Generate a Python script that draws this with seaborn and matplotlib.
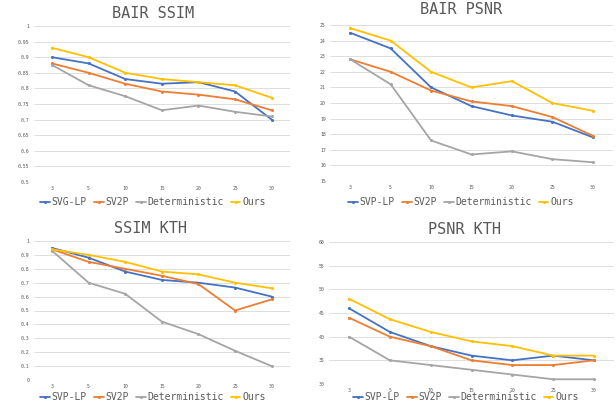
import pandas as pd
import matplotlib
matplotlib.use("Agg")
import matplotlib.pyplot as plt
import seaborn as sns

# frames predicted (x categories)
frames = ["3", "5", "10", "15", "20", "25", "30"]

# BAIR SSIM
bair_ssim_svg = [0.90, 0.88, 0.83, 0.815, 0.82, 0.79, 0.70]
bair_ssim_sv2p = [0.88, 0.85, 0.815, 0.79, 0.78, 0.765, 0.73]
bair_ssim_det = [0.875, 0.81, 0.775, 0.73, 0.745, 0.725, 0.71]
bair_ssim_ours = [0.93, 0.90, 0.85, 0.83, 0.82, 0.81, 0.77]

# BAIR PSNR
bair_psnr_svp = [24.5, 23.5, 21.0, 19.8, 19.2, 18.8, 17.8]
bair_psnr_sv2p = [22.8, 22.0, 20.8, 20.1, 19.8, 19.1, 17.9]
bair_psnr_det = [22.8, 21.2, 17.6, 16.7, 16.9, 16.4, 16.2]
bair_psnr_ours = [24.8, 24.0, 22.0, 21.0, 21.4, 20.0, 19.5]

# SSIM KTH
kth_ssim_svp = [0.95, 0.88, 0.78, 0.72, 0.70, 0.665, 0.60]
kth_ssim_sv2p = [0.94, 0.85, 0.80, 0.75, 0.69, 0.50, 0.58]
kth_ssim_det = [0.93, 0.70, 0.62, 0.42, 0.33, 0.21, 0.10]
kth_ssim_ours = [0.94, 0.90, 0.85, 0.78, 0.76, 0.70, 0.66]

# PSNR KTH
kth_psnr_svp = [46, 41, 38, 36, 35, 36, 35]
kth_psnr_sv2p = [44, 40, 38, 35, 34, 34, 35]
kth_psnr_det = [40, 35, 34, 33, 32, 31, 31]
kth_psnr_ours = [48, 43.7, 41, 39, 38, 36, 36]

colors = ["#4472C4", "#ED7D31", "#A5A5A5", "#FFC000"]


def long_df(names, series):
    rows = []
    for name, vals in zip(names, series):
        for f, v in zip(frames, vals):
            rows.append({"frames": f, "value": v, "method": name})
    return pd.DataFrame(rows)


sns.set_style("white")
plt.rcParams["font.family"] = ["DejaVu Sans Mono", "DejaVu Sans"]

fig = plt.figure(figsize=(6.16, 4.04), dpi=100)
W, H = 616.0, 404.0

panels = [
    # title, names, series, yticks, (left,right,top,bottom px), title pos, legend pos
    ("BAIR SSIM", ["SVG-LP", "SV2P", "Deterministic", "Ours"],
     [bair_ssim_svg, bair_ssim_sv2p, bair_ssim_det, bair_ssim_ours],
     [0.5, 0.55, 0.6, 0.65, 0.7, 0.75, 0.8, 0.85, 0.9, 0.95, 1],
     (33.7, 290, 26, 182), (153, 14), (153, 202)),
    ("BAIR PSNR", ["SVP-LP", "SV2P", "Deterministic", "Ours"],
     [bair_psnr_svp, bair_psnr_sv2p, bair_psnr_det, bair_psnr_ours],
     list(range(15, 26)),
     (330, 613, 25, 181), (461, 10), (461, 202)),
    ("SSIM KTH", ["SVP-LP", "SV2P", "Deterministic", "Ours"],
     [kth_ssim_svp, kth_ssim_sv2p, kth_ssim_det, kth_ssim_ours],
     [0, 0.1, 0.2, 0.3, 0.4, 0.5, 0.6, 0.7, 0.8, 0.9, 1],
     (33.7, 290, 241, 380), (150, 229), (153, 397)),
    ("PSNR KTH", ["SVP-LP", "SV2P", "Deterministic", "Ours"],
     [kth_psnr_svp, kth_psnr_sv2p, kth_psnr_det, kth_psnr_ours],
     [30, 35, 40, 45, 50, 55, 60],
     (328.6, 614.4, 242, 384), (464, 230), (466, 397)),
]

for title, names, series, yticks, box, tpos, lpos in panels:
    l, r, t, b = box
    ax = fig.add_axes([l / W, 1 - b / H, (r - l) / W, (b - t) / H])
    df = long_df(names, series)
    sns.lineplot(data=df, x="frames", y="value", hue="method", palette=colors,
                 marker="o", markersize=2.2, markeredgewidth=0, linewidth=1.3,
                 ax=ax)
    ax.set_xlim(-0.5, 6.5)
    ax.set_ylim(yticks[0], yticks[-1])
    ax.set_yticks(yticks)
    ax.set_yticklabels([f"{v:g}" for v in yticks])
    ax.grid(axis="y", color="#D9D9D9", linewidth=0.6)
    ax.set_axisbelow(True)
    for s in ax.spines.values():
        s.set_visible(False)
    ax.tick_params(axis="both", length=0, labelsize=3.5, colors="#595959", pad=3)
    ax.set_xlabel("")
    ax.set_ylabel("")
    handles, labels = ax.get_legend_handles_labels()
    ax.get_legend().remove()
    fig.legend(handles, labels, loc="center", bbox_to_anchor=(lpos[0] / W, 1 - lpos[1] / H),
               ncol=4, frameon=False, fontsize=7, handlelength=1.0,
               handletextpad=0.2, columnspacing=0.7, labelcolor="#595959")
    fig.text(tpos[0] / W, 1 - tpos[1] / H, title, ha="center", va="center",
             fontsize=11, color="#595959")

fig.savefig("out.png", dpi=100)
